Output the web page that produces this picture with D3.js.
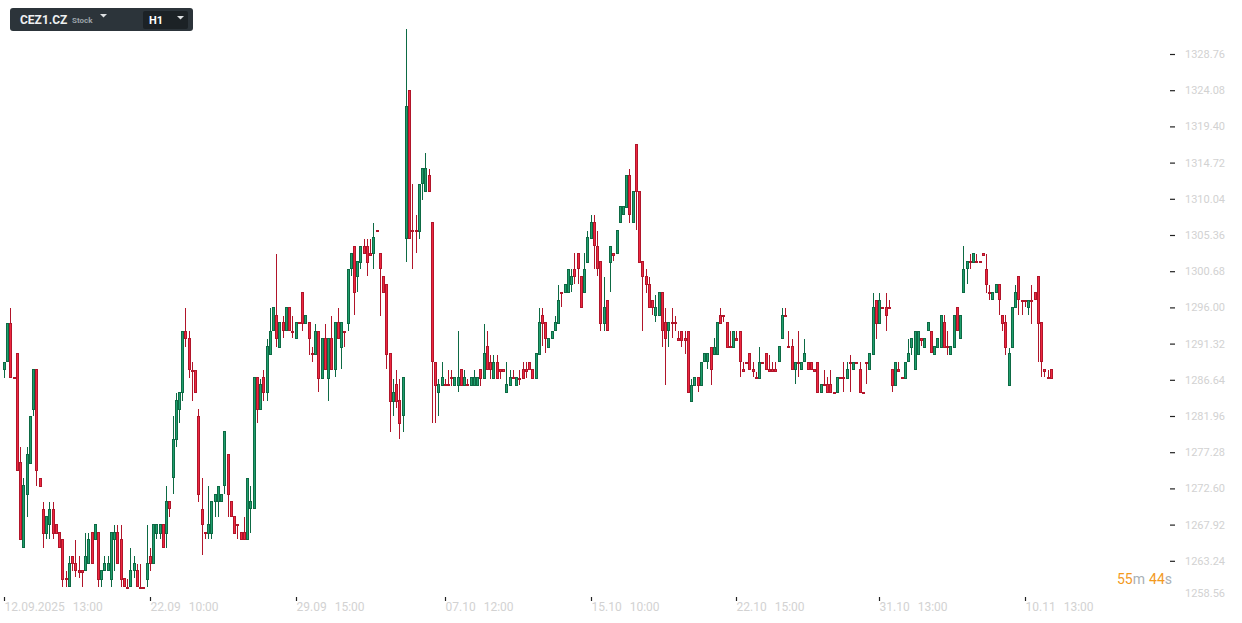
<!DOCTYPE html>
<html><head><meta charset="utf-8">
<script src="https://cdn.jsdelivr.net/npm/d3@7"></script>
<style>
html,body{margin:0;padding:0;background:#fff;}
svg{display:block;font-family:Roboto,"Liberation Sans",sans-serif;}
</style></head><body>
<svg id="chart" width="1242" height="623"></svg>
<script>
const opens=[1287.9,1288.9,1294.0,1287.0,1290.1,1276.0,1264.9,1271.8,1275.8,1282.8,
1288.0,1274.0,1270.0,1266.7,1267.9,1270.0,1268.0,1266.9,1266.0,1261.0,
1259.8,1263.9,1262.9,1262.0,1262.0,1261.9,1262.8,1266.9,1265.9,1266.9,
1260.8,1261.9,1261.9,1260.8,1265.9,1266.9,1266.0,1261.0,1259.9,1259.8,
1261.9,1262.0,1259.9,1259.9,1260.8,1263.9,1262.8,1266.7,1266.7,1268.0,
1266.7,1271.0,1273.9,1278.8,1282.8,1284.9,1293.0,1292.0,1287.9,1287.9,
1282.0,1270.0,1266.9,1266.7,1266.7,1270.9,1270.9,1270.9,1272.9,1277.0,
1271.0,1269.0,1268.0,1266.9,1266.9,1265.9,1269.9,1269.9,1287.0,1282.8,
1287.0,1284.9,1289.9,1292.9,1295.0,1290.8,1294.1,1292.9,1296.0,1293.0,
1291.9,1294.1,1298.0,1293.9,1294.1,1290.1,1289.9,1293.0,1286.8,1292.0,
1286.8,1292.0,1287.9,1294.1,1290.8,1293.0,1293.9,1300.9,1304.0,1299.9,
1301.8,1304.0,1304.0,1303.0,1302.9,1306.0,1303.0,1300.0,1299.0,1290.1,
1283.8,1286.1,1284.0,1281.9,1304.9,1324.1,1306.0,1306.0,1305.8,1311.9,
1310.9,1313.1,1307.0,1289.0,1284.9,1285.9,1286.1,1286.1,1287.0,1285.9,
1285.9,1288.0,1285.9,1286.1,1285.9,1285.9,1285.9,1288.0,1286.8,1291.0,
1289.0,1286.8,1289.0,1288.0,1288.0,1284.9,1285.9,1287.0,1285.9,1286.9,
1288.0,1288.0,1289.0,1288.0,1286.8,1289.9,1295.0,1294.1,1290.8,1291.9,
1292.9,1293.9,1298.0,1297.8,1297.8,1298.9,1301.0,1303.0,1300.0,1297.8,
1301.8,1304.9,1307.0,1304.0,1302.0,1293.9,1297.0,1301.8,1303.0,1302.9,
1306.9,1307.9,1308.9,1313.1,1306.9,1317.1,1311.0,1302.0,1300.0,1299.0,
1297.0,1294.9,1294.9,1298.0,1294.1,1292.9,1294.1,1294.1,1292.0,1293.0,
1292.0,1293.0,1283.8,1285.9,1287.0,1285.9,1288.9,1288.9,1290.9,1289.9,
1289.9,1295.0,1295.0,1294.1,1291.0,1290.8,1292.0,1293.0,1288.0,1289.0,
1290.1,1288.0,1287.0,1286.8,1289.0,1290.1,1288.0,1288.0,1288.0,1288.9,
1291.9,1295.0,1291.0,1291.0,1287.9,1289.0,1287.9,1288.9,1289.0,1289.0,
1288.0,1289.0,1284.9,1286.1,1286.1,1286.1,1285.0,1284.9,1287.0,1287.0,
1286.8,1289.0,1287.9,1289.0,1288.0,1285.0,1289.0,1287.9,1289.9,1297.0,
1293.9,1296.0,1296.0,1296.0,1288.0,1285.9,1288.0,1287.0,1286.8,1288.9,
1290.8,1287.9,1289.9,1292.0,1290.8,1292.9,1293.0,1289.9,1290.8,1290.8,
1294.1,1291.0,1289.9,1290.8,1296.0,1291.9,1297.8,1300.9,1302.0,1301.8,
1302.0,1302.0,1303.0,1301.0,1298.0,1296.9,1297.8,1299.0,1295.0,1294.1,
1285.9,1290.8,1295.9,1300.0,1297.0,1297.0,1295.9,1297.0,1298.0,1300.0,
1294.1,1288.0,1287.0,1288.0];
const highs=[1289.0,1294.0,1295.9,1287.0,1290.1,1277.9,1274.0,1277.9,1282.0,1288.0,
1288.0,1274.0,1270.8,1269.0,1270.8,1270.8,1268.0,1266.9,1266.0,1261.9,
1263.9,1263.9,1265.9,1263.9,1262.0,1266.8,1266.8,1266.9,1268.0,1266.9,
1262.0,1263.9,1263.9,1266.9,1267.9,1267.9,1267.9,1261.0,1260.9,1264.9,
1263.9,1262.8,1262.8,1259.9,1267.9,1264.9,1268.0,1268.0,1268.0,1268.0,
1272.9,1271.0,1282.0,1284.9,1285.0,1293.0,1295.9,1292.9,1288.9,1287.9,
1282.9,1273.9,1266.9,1272.9,1271.0,1271.9,1272.9,1271.9,1280.0,1277.0,
1271.0,1269.0,1268.0,1266.9,1268.9,1274.0,1272.9,1287.0,1287.0,1286.8,
1287.9,1291.9,1295.9,1296.0,1302.9,1294.1,1294.9,1296.0,1296.0,1294.9,
1294.1,1294.1,1298.0,1295.0,1294.1,1290.9,1293.9,1293.0,1292.0,1293.9,
1292.0,1294.9,1294.1,1295.9,1294.1,1293.0,1301.0,1303.0,1304.0,1302.0,
1304.0,1304.9,1304.9,1304.9,1306.9,1306.0,1303.0,1300.0,1299.0,1290.1,
1286.8,1287.9,1286.8,1287.0,1332.0,1324.1,1311.9,1307.9,1312.0,1314.0,
1315.9,1313.9,1307.0,1289.0,1286.8,1288.9,1286.8,1287.9,1287.9,1287.0,
1292.9,1288.0,1287.9,1286.8,1287.0,1287.9,1287.0,1288.0,1293.9,1292.9,
1289.9,1289.9,1289.9,1288.0,1288.0,1288.9,1287.9,1287.9,1287.0,1287.9,
1288.9,1288.9,1289.0,1288.0,1290.1,1295.9,1295.9,1294.1,1292.0,1293.0,
1294.9,1298.9,1298.0,1299.0,1301.0,1300.9,1303.0,1303.0,1300.0,1303.0,
1305.9,1307.9,1307.9,1305.9,1302.0,1299.9,1297.0,1304.0,1303.0,1306.0,
1309.1,1309.1,1313.1,1313.9,1311.0,1317.1,1311.0,1302.0,1300.9,1299.9,
1297.0,1297.6,1298.0,1298.0,1295.9,1294.1,1295.9,1294.9,1292.9,1293.0,
1292.9,1293.0,1286.8,1287.0,1287.0,1289.0,1290.1,1290.1,1290.9,1292.0,
1294.1,1295.9,1295.0,1294.1,1292.9,1293.0,1292.9,1293.0,1288.9,1289.0,
1290.1,1288.9,1287.7,1290.9,1289.0,1290.1,1289.9,1288.9,1288.9,1291.0,
1295.9,1295.9,1292.9,1291.9,1289.0,1292.9,1289.0,1291.9,1289.0,1289.0,
1288.0,1289.0,1286.1,1287.9,1287.0,1287.9,1285.0,1287.0,1287.0,1288.9,
1288.9,1289.9,1289.0,1289.0,1288.9,1285.0,1289.0,1290.1,1297.8,1297.0,
1297.8,1296.0,1297.8,1296.9,1288.0,1289.0,1288.9,1287.0,1289.0,1291.9,
1292.0,1293.0,1293.0,1292.0,1292.0,1294.1,1293.0,1291.0,1292.0,1295.0,
1295.0,1292.9,1291.0,1295.0,1296.0,1295.0,1303.9,1302.0,1302.9,1303.0,
1302.9,1302.0,1303.0,1302.9,1298.9,1298.0,1299.0,1299.0,1295.0,1295.0,
1290.8,1296.0,1298.9,1300.0,1297.0,1297.0,1296.9,1298.9,1298.0,1300.0,
1294.1,1288.0,1287.9,1288.0];
const lows=[1286.9,1288.9,1286.9,1286.7,1274.9,1265.9,1264.9,1268.9,1275.8,1282.0,
1272.9,1272.8,1264.9,1266.0,1266.0,1266.0,1266.7,1264.9,1259.9,1259.9,
1259.8,1261.9,1261.2,1261.0,1259.9,1261.9,1262.8,1262.8,1265.9,1259.9,
1259.9,1261.9,1261.9,1259.9,1261.9,1262.8,1259.9,1259.8,1259.7,1259.8,
1261.0,1259.8,1259.7,1259.7,1259.9,1261.9,1262.8,1266.0,1266.0,1264.9,
1264.9,1268.9,1271.9,1278.0,1281.0,1283.9,1290.9,1286.9,1283.9,1284.9,
1270.9,1264.0,1266.0,1266.0,1266.0,1268.9,1268.9,1270.9,1271.9,1268.9,
1268.9,1266.7,1266.0,1265.9,1265.9,1265.9,1266.8,1269.9,1281.0,1282.8,
1283.9,1283.9,1289.9,1292.9,1290.9,1290.8,1292.0,1292.9,1292.9,1292.0,
1291.9,1293.8,1293.0,1293.9,1289.9,1289.0,1289.9,1285.0,1286.8,1287.9,
1283.9,1287.9,1287.0,1291.9,1288.0,1290.9,1293.0,1300.0,1295.0,1298.0,
1301.0,1302.9,1300.0,1302.7,1301.0,1305.7,1294.9,1297.8,1288.0,1279.9,
1282.0,1283.0,1279.0,1279.9,1301.9,1304.9,1301.0,1303.0,1304.9,1309.9,
1310.9,1310.9,1281.0,1281.0,1282.0,1285.9,1285.8,1285.8,1285.9,1285.9,
1285.0,1285.9,1285.9,1285.8,1285.9,1285.9,1285.9,1285.9,1286.8,1287.9,
1286.8,1286.8,1286.8,1286.8,1287.7,1284.9,1285.9,1286.7,1285.9,1286.0,
1286.8,1286.9,1287.9,1286.8,1286.8,1289.9,1291.0,1290.1,1290.8,1291.9,
1292.9,1293.9,1296.0,1297.8,1297.8,1298.0,1299.0,1299.0,1295.9,1297.8,
1301.8,1304.9,1301.0,1300.0,1293.0,1293.0,1292.9,1298.0,1302.0,1302.9,
1306.9,1307.9,1308.9,1306.9,1306.9,1306.0,1301.8,1293.0,1297.8,1295.9,
1295.0,1294.1,1294.9,1290.9,1286.0,1290.9,1292.0,1292.9,1291.7,1290.9,
1290.0,1284.9,1283.8,1285.9,1285.0,1285.9,1288.9,1288.0,1286.0,1289.9,
1289.9,1293.9,1294.1,1290.8,1290.7,1290.8,1291.7,1287.0,1287.7,1288.8,
1287.9,1287.0,1286.7,1286.8,1288.8,1287.9,1287.7,1287.7,1287.7,1288.9,
1291.9,1294.7,1290.7,1287.9,1286.1,1287.0,1287.9,1288.9,1287.9,1287.9,
1287.7,1284.9,1284.9,1285.8,1284.9,1284.9,1284.8,1284.9,1286.7,1285.0,
1286.8,1285.0,1287.9,1288.8,1284.9,1284.8,1286.1,1287.9,1289.9,1291.9,
1293.9,1295.8,1292.9,1295.8,1285.0,1285.9,1287.7,1286.7,1286.8,1288.9,
1289.9,1287.9,1289.9,1291.0,1290.8,1292.9,1290.1,1289.9,1290.8,1290.8,
1290.8,1289.9,1289.9,1290.8,1292.9,1291.9,1297.8,1299.0,1301.0,1301.8,
1301.7,1301.7,1302.7,1297.8,1296.9,1296.9,1297.8,1295.0,1293.0,1289.9,
1285.9,1290.8,1295.9,1295.0,1295.0,1296.0,1295.0,1293.9,1296.9,1289.0,
1287.0,1287.0,1286.7,1286.8];
const closes=[1289.0,1294.0,1286.9,1286.7,1274.9,1265.9,1273.0,1277.0,1282.0,1288.0,
1274.8,1272.8,1266.7,1269.0,1270.0,1266.7,1266.7,1264.9,1260.8,1260.7,
1262.9,1262.8,1261.9,1261.7,1261.7,1263.9,1266.0,1262.8,1268.0,1260.8,
1262.0,1262.9,1262.9,1266.9,1266.9,1262.8,1260.8,1259.8,1259.7,1262.0,
1262.9,1259.8,1259.7,1259.7,1262.9,1262.8,1268.0,1268.0,1268.0,1264.9,
1271.0,1269.9,1279.0,1284.0,1285.0,1293.0,1291.9,1287.9,1287.7,1284.9,
1271.8,1267.9,1266.7,1268.0,1271.0,1271.9,1272.9,1271.9,1280.0,1271.8,
1268.9,1266.7,1267.7,1265.9,1265.9,1274.0,1271.0,1287.0,1282.8,1286.1,
1284.9,1291.0,1293.0,1296.0,1291.9,1294.1,1292.9,1296.0,1292.9,1292.8,
1294.1,1293.8,1293.9,1295.0,1291.9,1289.8,1293.0,1286.8,1292.0,1287.9,
1292.0,1287.9,1294.1,1291.9,1294.1,1292.8,1301.0,1303.0,1297.8,1302.0,
1304.0,1302.9,1301.8,1302.7,1305.1,1305.7,1300.9,1297.8,1289.9,1283.8,
1285.0,1283.8,1280.9,1287.0,1322.0,1304.9,1305.7,1305.7,1312.0,1314.0,
1314.0,1310.9,1288.9,1285.9,1286.1,1287.0,1285.8,1285.8,1286.7,1287.0,
1287.0,1285.9,1287.0,1285.8,1287.0,1287.0,1287.0,1286.8,1290.1,1287.9,
1287.9,1289.0,1286.8,1287.7,1287.7,1286.1,1287.0,1286.7,1287.0,1286.6,
1286.8,1287.7,1287.9,1286.8,1290.1,1294.1,1293.9,1291.9,1292.0,1293.0,
1294.1,1297.0,1297.7,1299.0,1301.0,1300.0,1299.9,1300.9,1295.9,1301.0,
1305.1,1307.0,1303.9,1300.9,1293.9,1296.0,1292.9,1304.0,1302.7,1306.0,
1309.1,1309.1,1313.1,1307.9,1311.0,1310.9,1301.8,1299.9,1298.9,1295.9,
1295.9,1296.0,1298.0,1292.9,1291.9,1294.1,1293.8,1293.8,1291.7,1291.7,
1291.7,1284.9,1286.0,1287.0,1285.9,1289.0,1290.1,1290.1,1287.9,1290.9,
1294.1,1293.9,1294.7,1290.8,1290.7,1293.0,1291.7,1288.9,1287.7,1288.8,
1287.9,1287.7,1286.7,1289.0,1288.8,1287.9,1287.7,1287.7,1287.7,1291.0,
1295.0,1294.7,1290.7,1287.9,1289.0,1288.8,1289.0,1290.1,1287.9,1287.9,
1287.7,1284.9,1286.1,1285.8,1284.9,1284.9,1284.8,1287.0,1286.7,1286.7,
1288.0,1288.8,1289.0,1288.8,1284.9,1284.8,1288.8,1290.1,1296.0,1293.9,
1297.0,1295.8,1294.9,1295.8,1285.9,1289.0,1287.7,1286.7,1289.0,1290.1,
1292.0,1293.0,1293.0,1291.7,1292.0,1294.1,1290.1,1291.0,1292.0,1295.0,
1290.8,1290.7,1291.0,1295.0,1292.9,1295.0,1301.0,1302.0,1301.7,1303.0,
1301.7,1301.7,1302.7,1298.9,1297.7,1298.0,1299.0,1296.9,1293.9,1290.8,
1290.1,1296.0,1298.0,1296.9,1296.8,1296.8,1296.9,1296.8,1296.9,1293.9,
1288.9,1287.7,1286.7,1286.8];

const priceTicks=[1328.76,1324.08,1319.40,1314.72,1310.04,1305.36,1300.68,1296.00,1291.32,1286.64,1281.96,1277.28,1272.60,1267.92,1263.24];
const lastTickPrice=1258.56;
const xTickIndex=[0,45,90,136,181,226,270,315];
const xTickDates=["12.09.2025","22.09","29.09","07.10","15.10","22.10","31.10","10.11"];
const xTickTimes=["13:00","10:00","15:00","12:00","10:00","15:00","13:00","13:00"];
const symbolName="CEZ1.CZ", assetType="Stock", timeframe="H1";
const countdownParts=[["55","m"],["44","s"]];

const svg=d3.select("#chart");
const n=opens.length;
const x=d3.scaleLinear().domain([0,n-1]).range([4.5,1051.3]);
const y=d3.scaleLinear().domain([1258.56,1328.76]).range([597,54]);

const UP_FILL="#1f9e6d", UP_LINE="#0d6a44", DN_FILL="#ee2840", DN_LINE="#b1152a";

const data=opens.map((o,i)=>({i,o,h:highs[i],l:lows[i],c:closes[i]}));
const g=svg.append("g");
const cg=g.selectAll("g.c").data(data).join("g").attr("class","c");
cg.append("line")
  .attr("x1",d=>Math.floor(x(d.i))+0.5).attr("x2",d=>Math.floor(x(d.i))+0.5)
  .attr("y1",d=>Math.round(y(d.h))).attr("y2",d=>Math.round(y(d.l)))
  .attr("stroke",d=>d.c>=d.o?UP_LINE:DN_LINE).attr("stroke-width",1);
cg.append("rect")
  .attr("x",d=>Math.floor(x(d.i))-0.5)
  .attr("width",2)
  .attr("y",d=>Math.round(y(Math.max(d.o,d.c)))+0.5)
  .attr("height",d=>Math.max(1,Math.round(y(Math.min(d.o,d.c)))-Math.round(y(Math.max(d.o,d.c)))-1))
  .attr("fill",d=>d.c>=d.o?UP_FILL:DN_FILL)
  .attr("stroke",d=>d.c>=d.o?UP_LINE:DN_LINE).attr("stroke-width",1);

// Y axis
const yAxis=d3.axisRight(y).tickValues(priceTicks).tickSize(5).tickPadding(10).tickFormat(d3.format(".2f"));
const yg=svg.append("g").attr("transform","translate(1170,0)").call(yAxis);
yg.select(".domain").remove();
yg.selectAll(".tick line").attr("stroke","#222").attr("stroke-width",1.2);
yg.selectAll(".tick text").attr("fill","#d2d2d2").style("font-size","11px").style("font-family","Roboto");
svg.append("text").attr("x",1185).attr("y",y(lastTickPrice)-4).attr("dy","0.32em")
  .attr("fill","#d2d2d2").style("font-size","11px").text(d3.format(".2f")(lastTickPrice));

// X axis
const xAxis=d3.axisBottom(x).tickValues(xTickIndex).tickSize(4).tickPadding(3).tickFormat(()=>"");
const xg=svg.append("g").attr("transform","translate(0,597)").call(xAxis);
xg.select(".domain").remove();
xg.selectAll(".tick").attr("transform",d=>`translate(${Math.floor(x(d))+0.5},0)`);
xg.selectAll(".tick line").attr("stroke","#222").attr("stroke-width",1.2);
xg.selectAll(".tick text").remove();
xg.selectAll(".tick").append("text")
  .attr("x",0).attr("y",14).attr("text-anchor","start")
  .attr("fill","#d2d2d2").style("font-size","12px").style("font-family","Roboto")
  .each(function(d,k){
    const t=d3.select(this);
    t.append("tspan").text(xTickDates[k]);
    t.append("tspan").attr("dx",8).text(xTickTimes[k]);
  });

// countdown
const cd=svg.append("text").attr("x",1117).attr("y",584).style("font-size","14px").style("font-family","Roboto");
countdownParts.forEach((p,k)=>{
  cd.append("tspan").attr("fill","#f39a1d").attr("dx",k?4:0).text(p[0]);
  cd.append("tspan").attr("fill","#a9b0b6").text(p[1]);
});

// header
const hd=svg.append("g");
hd.append("rect").attr("x",10).attr("y",8).attr("width",183).attr("height",23).attr("rx",3).attr("fill","#2c343a");
hd.append("text").attr("x",20).attr("y",24).attr("fill","#eef0f1").style("font-size","12px").style("font-weight","bold").text(symbolName);
hd.append("text").attr("x",72).attr("y",23).attr("fill","#9aa2a8").style("font-size","8px").style("font-weight","bold").text(assetType);
hd.append("path").attr("d","M100,14 L107,14 L103.5,17.5 Z").attr("fill","#dfe2e4");
hd.append("rect").attr("x",143).attr("y",11).attr("width",45).attr("height",18).attr("rx",2).attr("fill","#1c2226");
hd.append("text").attr("x",149).attr("y",24).attr("fill","#ffffff").style("font-size","11px").style("font-weight","bold").text(timeframe);
hd.append("path").attr("d","M177,16 L184,16 L180.5,19.5 Z").attr("fill","#dfe2e4");
</script>
</body></html>
